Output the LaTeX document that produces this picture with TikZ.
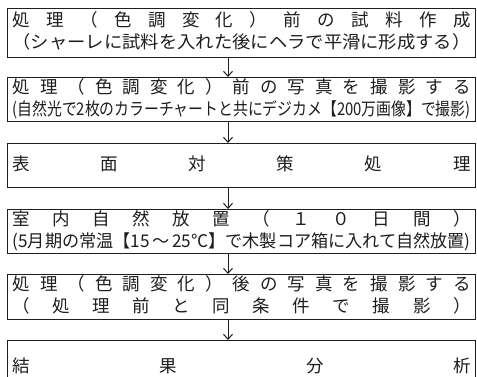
\documentclass[tikz,border=0pt]{standalone}
\usepackage{fontspec}
\usepackage{graphicx}
\newfontfamily\jp{Noto Sans CJK JP}
\usetikzlibrary{arrows.meta}
\newsavebox\fitbox
\newcommand\fitw[2]{\sbox\fitbox{#2}\pgfmathsetmacro\fitratio{#1/\the\wd\fitbox}\scalebox{\fitratio}[1]{\usebox\fitbox}}
\newcommand\spr[1]{\makebox[458pt][s]{#1}}
\definecolor{ink}{HTML}{1E1E1E}
\tikzset{
  stepbox/.style={draw=ink, line width=1.2pt, rectangle, anchor=north west,
    minimum width=468pt, inner sep=0pt, text=ink,
    font=\jp\fontsize{17.5}{22}\selectfont},
  flow/.style={draw=ink, line width=1pt, -{Straight Barb[length=5pt,width=9pt]}}
}
\begin{document}
\begin{tikzpicture}[x=1pt,y=-1pt]
\useasboundingbox (0,0) rectangle (477,376);
\clip (0,0) rectangle (477,376);
\fill[white] (0,0) rectangle (477,376);
\coordinate (ax) at (228,0);
\node[stepbox, minimum height=49pt] (b1) at (7,8) {\begin{tabular}{@{}c@{}}
\spr{処\hfill 理\hfill （\hfill 色\hfill 調\hfill 変\hfill 化\hfill ）\hfill 前\hfill の\hfill 試\hfill 料\hfill 作\hfill 成}\\
\fitw{458}{（シャーレに試料を入れた後にヘラで平滑に形成する）}
\end{tabular}};
\node[stepbox, minimum height=44pt] (b2) at (7,77) {\begin{tabular}{@{}c@{}}
\spr{処\hfill 理\hfill （\hfill 色\hfill 調\hfill 変\hfill 化\hfill ）\hfill 前\hfill の\hfill 写\hfill 真\hfill を\hfill 撮\hfill 影\hfill す\hfill る}\\
\fitw{458}{(自然光で2枚のカラーチャートと共にデジカメ【200万画像】で撮影)}
\end{tabular}};
\node[stepbox, minimum height=44pt] (b3) at (7,143) {\begin{tabular}{@{}c@{}}
\spr{表\hfill 面\hfill 対\hfill 策\hfill 処\hfill 理}
\end{tabular}};
\node[stepbox, minimum height=44pt] (b4) at (7,209) {\begin{tabular}{@{}c@{}}
\spr{室\hfill 内\hfill 自\hfill 然\hfill 放\hfill 置\hfill （\hfill １\hfill ０\hfill 日\hfill 間\hfill ）}\\
\fitw{458}{(5月期の常温【15\,〜\,25℃】で木製コア箱に入れて自然放置)}
\end{tabular}};
\node[stepbox, minimum height=45pt] (b5) at (7,274) {\begin{tabular}{@{}c@{}}
\spr{処\hfill 理\hfill （\hfill 色\hfill 調\hfill 変\hfill 化\hfill ）\hfill 後\hfill の\hfill 写\hfill 真\hfill を\hfill 撮\hfill 影\hfill す\hfill る}\\
\spr{（\hfill 処\hfill 理\hfill 前\hfill と\hfill 同\hfill 条\hfill 件\hfill で\hfill 撮\hfill 影\hfill ）}
\end{tabular}};
\node[stepbox, minimum height=54pt] (b6) at (7,340) {\begin{tabular}{@{}c@{}}
\spr{結\hfill 果\hfill 分\hfill 析}
\end{tabular}};
\draw[flow] (b1.south -| ax) -- (b2.north -| ax);
\draw[flow] (b2.south -| ax) -- (b3.north -| ax);
\draw[flow] (b3.south -| ax) -- (b4.north -| ax);
\draw[flow] (b4.south -| ax) -- (b5.north -| ax);
\draw[flow] (b5.south -| ax) -- (b6.north -| ax);
\end{tikzpicture}
\end{document}
